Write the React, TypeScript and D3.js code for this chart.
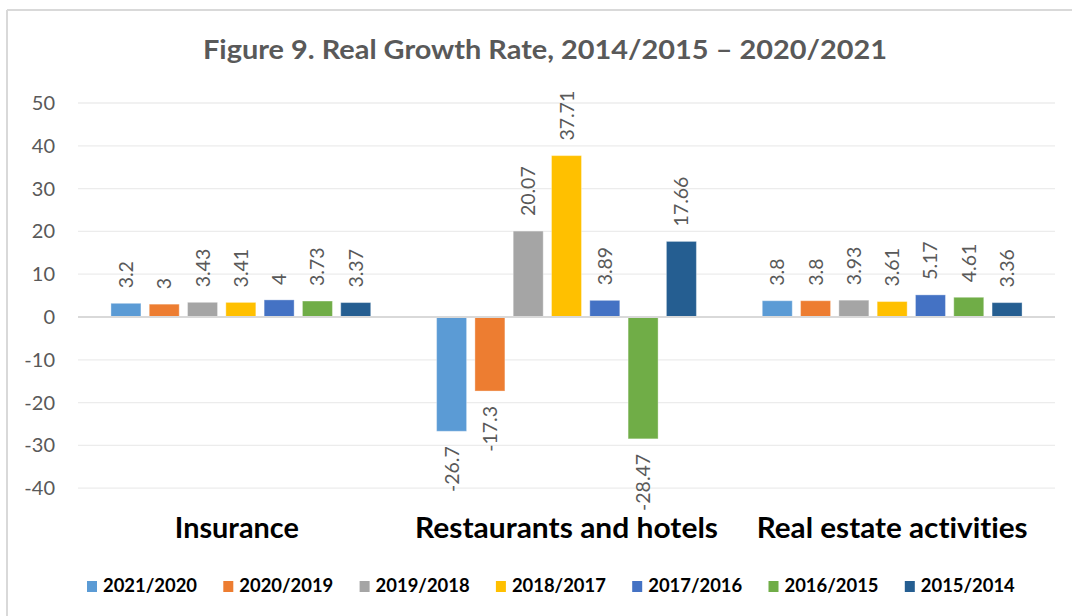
import React from 'react';
import * as d3 from 'd3';

const categories = ['Insurance', 'Restaurants and hotels', 'Real estate activities'];
const seriesNames = ['2021/2020', '2020/2019', '2019/2018', '2018/2017', '2017/2016', '2016/2015', '2015/2014'];
const seriesColors = ['#5B9BD5', '#ED7D31', '#A5A5A5', '#FFC000', '#4472C4', '#70AD47', '#255E91'];
const insurance = [3.2, 3, 3.43, 3.41, 4, 3.73, 3.37];
const restaurants = [-26.7, -17.3, 20.07, 37.71, 3.89, -28.47, 17.66];
const realEstate = [3.8, 3.8, 3.93, 3.61, 5.17, 4.61, 3.36];
const yTicks = [50, 40, 30, 20, 10, 0, -10, -20, -30, -40];
const title = 'Figure 9. Real Growth Rate, 2014/2015 \u2013 2020/2021';

const categoryValues = [insurance, restaurants, realEstate];
const catLabelWidths = [124, 303, 271];

export default function App() {
  const W = 1072, H = 616;
  const plotLeft = 78, plotRight = 1055;
  const y = d3.scaleLinear().domain([-40, 50]).range([488.2, 103]);
  const x0 = d3.scaleBand<string>().domain(categories).range([plotLeft, plotRight]).paddingInner(0).paddingOuter(0);
  const x1 = d3.scaleBand<string>().domain(seriesNames).range([0, x0.bandwidth()]).paddingInner(0.217).paddingOuter(0.86);
  const font = 'Lato, "Open Sans", sans-serif';

  return (
    <svg width={W} height={H} style={{ position: 'absolute', left: 0, top: 0, background: '#fff', fontVariantLigatures: 'none' }} fontFamily={font}>
      <rect x={0} y={0} width={W} height={H} fill="#fff" />
      <line x1={7} y1={10} x2={W} y2={10} stroke="#d9d9d9" strokeWidth={2} />
      <line x1={7} y1={10} x2={7} y2={H} stroke="#d9d9d9" strokeWidth={2} />
      <text x={545} y={59} textAnchor="middle" fontSize={27} fontWeight="bold" fill="#595959" textLength={684} lengthAdjust="spacingAndGlyphs">{title}</text>
      {yTicks.map(t => (
        <g key={t}>
          {t !== 0 && <line x1={plotLeft} x2={plotRight} y1={y(t)} y2={y(t)} stroke="#ececec" strokeWidth={1.3} />}
          <text x={55} y={y(t)} dy="0.35em" textAnchor="end" fontSize={20} fill="#595959">{t}</text>
        </g>
      ))}
      {categories.map((c, ci) => (
        <g key={c} transform={`translate(${x0(c)},0)`}>
          {categoryValues[ci].map((v, si) => {
            const s = seriesNames[si];
            const bx = x1(s)!;
            const top = y(Math.max(0, v));
            const bot = y(Math.min(0, v));
            const cx = bx + x1.bandwidth() / 2;
            const ly = v >= 0 ? top - 15 : bot + 15;
            return (
              <g key={s}>
                <rect x={bx} y={top} width={x1.bandwidth()} height={bot - top} fill={seriesColors[si]} stroke="#ffffff" strokeOpacity={0.35} strokeWidth={1} />
                <text transform={`translate(${cx},${ly}) rotate(-90)`} dy="0.36em" textAnchor={v >= 0 ? 'start' : 'end'} fontSize={19.5} fill="#595959">{String(v)}</text>
              </g>
            );
          })}
        </g>
      ))}
      <line x1={plotLeft} x2={plotRight} y1={y(0)} y2={y(0)} stroke="#d9d9d9" strokeWidth={2} />
      {categories.map((c, ci) => (
        <text key={c} x={x0(c)! + x0.bandwidth() / 2 - (ci === 0 ? 4 : 0)} y={538} textAnchor="middle" fontSize={28} fontWeight="bold" fill="#000" textLength={catLabelWidths[ci]} lengthAdjust="spacingAndGlyphs">{c}</text>
      ))}
      {seriesNames.map((s, i) => (
        <g key={s} transform={`translate(${87 + i * 136.3},0)`}>
          <rect x={0} y={581} width={10} height={11} fill={seriesColors[i]} />
          <text x={16} y={592} fontSize={19} fontWeight="bold" fill="#000" textLength={94} lengthAdjust="spacingAndGlyphs">{s}</text>
        </g>
      ))}
    </svg>
  );
}
